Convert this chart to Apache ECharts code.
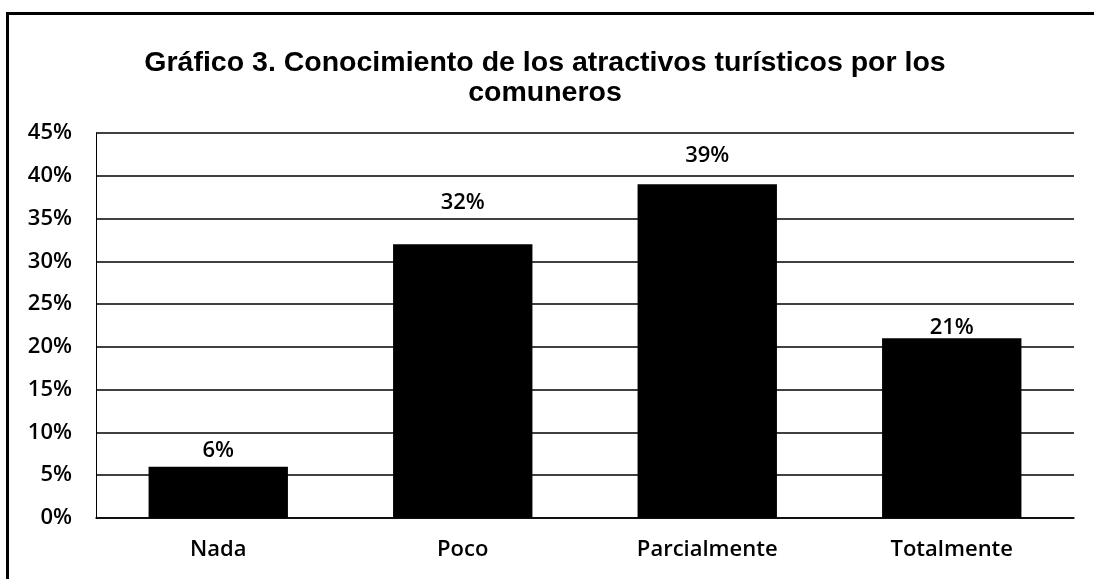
<!DOCTYPE html>
<html>
<head>
<meta charset="utf-8">
<script src="https://cdn.jsdelivr.net/npm/echarts@6/dist/echarts.min.js"></script>
<style>
  html, body { margin: 0; padding: 0; background: #fff; }
  #frame {
    position: absolute; left: 6px; top: 12px; width: 1088px; height: 567px;
    border-left: 3px solid #000; border-top: 3px solid #000; box-sizing: border-box;
  }
  #chart { position: absolute; left: 0; top: 0; width: 1094px; height: 579px; }
</style>
</head>
<body>
<div id="frame"></div>
<div id="chart"></div>
<script>
const categories = ['Nada', 'Poco', 'Parcialmente', 'Totalmente']
const values = [6, 32, 39, 21]
const titleText = 'Gráfico 3. Conocimiento de los atractivos turísticos por los\ncomuneros'

// the labels sit at uneven heights above the bars in the original
const labelGap = [5, 30, 18, 0]

const labelFont = {
  fontFamily: 'Open Sans',
  fontWeight: 600,
  fontSize: 22,
  color: '#000'
}

const chart = echarts.init(document.getElementById('chart'))

chart.setOption({
  animation: false,
  title: {
    text: titleText,
    left: 540,
    textAlign: 'center',
    top: 43,
    textStyle: {
      fontFamily: 'Liberation Sans',
      fontWeight: 'bold',
      fontSize: 28.5,
      lineHeight: 30,
      color: '#000'
    }
  },
  grid: { left: 96, right: 20, top: 133, bottom: 61 },
  xAxis: {
    type: 'category',
    data: categories,
    axisLine: { show: true, lineStyle: { color: '#000', width: 1.5 } },
    axisTick: { show: false },
    axisLabel: Object.assign({ margin: 21 }, labelFont)
  },
  yAxis: {
    type: 'value',
    min: 0,
    max: 45,
    interval: 5,
    axisLine: { show: true, lineStyle: { color: '#000', width: 1 } },
    axisTick: { show: false },
    splitLine: { lineStyle: { color: '#000', width: 1.5 } },
    axisLabel: Object.assign({ margin: 24, formatter: '{value}%' }, labelFont)
  },
  series: [{
    type: 'bar',
    data: values.map((v, i) => ({ value: v, label: { distance: labelGap[i] } })),
    barWidth: '57%',
    itemStyle: { color: '#000' },
    label: Object.assign({
      show: true,
      position: 'top',
      formatter: '{c}%'
    }, labelFont)
  }]
})
</script>
</body>
</html>
